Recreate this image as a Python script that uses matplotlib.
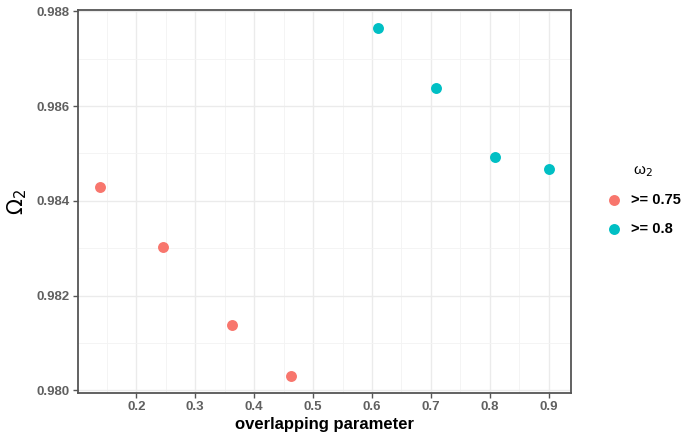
import numpy as np
import matplotlib.pyplot as plt
from matplotlib.ticker import MultipleLocator

# values
overlap_low = [0.139, 0.246, 0.362, 0.462]
omega_low = [0.98429, 0.98303, 0.98138, 0.98031]
overlap_high = [0.610, 0.709, 0.808, 0.900]
omega_high = [0.98766, 0.98638, 0.98492, 0.98467]
groups = [">= 0.75", ">= 0.8"]
colors = ["#F8766D", "#00BFC4"]

plt.rcParams["font.family"] = ["Liberation Sans", "DejaVu Sans"]

fig = plt.figure(figsize=(6.84, 4.42), dpi=100)
ax = fig.add_axes([0.114, 0.111, 0.721, 0.866])

ax.scatter(overlap_low, omega_low, s=62, color=colors[0], label=groups[0], zorder=3, linewidths=0)
ax.scatter(overlap_high, omega_high, s=62, color=colors[1], label=groups[1], zorder=3, linewidths=0)

# ggplot-style 5% expansion
xs = overlap_low + overlap_high
ys = omega_low + omega_high
xr = max(xs) - min(xs)
yr = max(ys) - min(ys)
ax.set_xlim(min(xs) - 0.05 * xr, max(xs) + 0.05 * xr)
ax.set_ylim(min(ys) - 0.05 * yr, max(ys) + 0.05 * yr)

ax.xaxis.set_major_locator(MultipleLocator(0.1))
ax.xaxis.set_minor_locator(MultipleLocator(0.05))
ax.yaxis.set_major_locator(MultipleLocator(0.002))
ax.yaxis.set_minor_locator(MultipleLocator(0.001))
ax.xaxis.set_major_formatter(plt.FuncFormatter(lambda v, p: f"{v:.1f}"))
ax.yaxis.set_major_formatter(plt.FuncFormatter(lambda v, p: f"{v:.3f}"))

ax.grid(which="major", color="#EBEBEB", linewidth=1.0)
ax.grid(which="minor", color="#F3F3F3", linewidth=0.6)
ax.set_axisbelow(True)

for sp in ax.spines.values():
    sp.set_color("#555555")
    sp.set_linewidth(1.3)

ax.tick_params(which="major", direction="out", length=3.5, width=1.0, color="#555555",
               labelsize=9.5, labelcolor="#606060", pad=2.5)
ax.tick_params(which="minor", length=0)
for lab in ax.get_xticklabels() + ax.get_yticklabels():
    lab.set_fontweight("bold")

ax.set_xlabel("overlapping parameter", fontsize=12, fontweight="bold", labelpad=3)
ax.set_ylabel(r"$\Omega_2$", fontsize=15, labelpad=5)

# legend: title aligned with labels, as in the reference
fig.text(633 / 684, 1 - 172 / 442, "ω$_2$", fontsize=11, ha="left", va="center")
leg = ax.legend(loc="upper left", bbox_to_anchor=(0.877, 1 - 193 / 442),
                bbox_transform=fig.transFigure, frameon=False, fontsize=10.5,
                handletextpad=0.15, labelspacing=1.0, borderaxespad=0, borderpad=0)
for t in leg.get_texts():
    t.set_fontweight("bold")

fig.savefig("out.png", dpi=100)
